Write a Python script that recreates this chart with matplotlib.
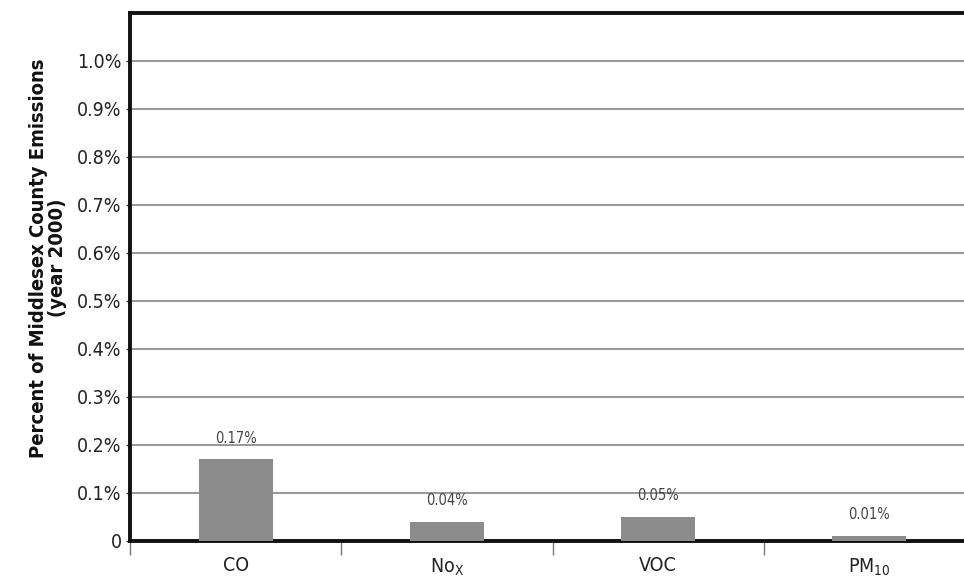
import matplotlib
matplotlib.use("Agg")
import matplotlib.pyplot as plt
import numpy as np
from matplotlib.ticker import FixedLocator

# Anteil an den Emissionen von Middlesex County (Jahr 2000)
categories = ["CO", r"No$_{\mathregular{X}}$", "VOC", r"PM$_{\mathregular{10}}$"]
values = [0.17, 0.04, 0.05, 0.01]
value_labels = ["0.17%", "0.04%", "0.05%", "0.01%"]
ytick_values = [0, 0.1, 0.2, 0.3, 0.4, 0.5, 0.6, 0.7, 0.8, 0.9, 1.0]
ytick_labels = ["0", "0.1%", "0.2%", "0.3%", "0.4%", "0.5%", "0.6%", "0.7%",
                "0.8%", "0.9%", "1.0%"]

plt.rcParams["font.family"] = ["DejaVu Sans"]
plt.rcParams["font.stretch"] = "condensed"
plt.rcParams["mathtext.fontset"] = "custom"
plt.rcParams["mathtext.rm"] = "DejaVu Sans:stretch=condensed"

fig = plt.figure(figsize=(9.64, 5.76), dpi=100)
ax = fig.add_axes([130 / 964, 35 / 576, 845 / 964, 528 / 576])

x = np.arange(len(categories))
ax.bar(x, values, width=0.35, color="#8c8c8c", zorder=3)

for xi, v, lbl in zip(x, values, value_labels):
    ax.annotate(lbl, (xi, v), xytext=(0, 10), textcoords="offset points",
                ha="center", va="bottom", fontsize=10.5, color="#444444")

ax.set_xlim(-0.5, len(categories) - 0.5)
ax.set_ylim(0, 1.1)

ax.set_yticks(ytick_values)
ax.set_yticklabels(ytick_labels, fontsize=14, color="#222222")
ax.yaxis.grid(True, color="#858585", linewidth=1.2, zorder=1)
ax.tick_params(axis="y", length=3, width=1, color="#333333", pad=3)

# labels centred on the bars, tick marks between categories
ax.set_xticks(x)
ax.set_xticklabels(categories, fontsize=14, color="#222222")
ax.tick_params(axis="x", which="major", length=0, pad=11)
ax.xaxis.set_minor_locator(FixedLocator(np.arange(len(categories)) - 0.5))
ax.tick_params(axis="x", which="minor", length=10, width=1, color="#777777")

fig.text(48 / 964, 1 - 258 / 576,
         "Percent of Middlesex County Emissions\n(year 2000)",
         rotation=90, ha="center", va="center", multialignment="center",
         fontsize=14.5, fontweight="bold", linespacing=1.05, color="#111111")

for side in ("left", "top", "bottom"):
    ax.spines[side].set_linewidth(2.8)
    ax.spines[side].set_color("#111111")
ax.spines["right"].set_visible(False)

fig.savefig("out.png", dpi=100)
